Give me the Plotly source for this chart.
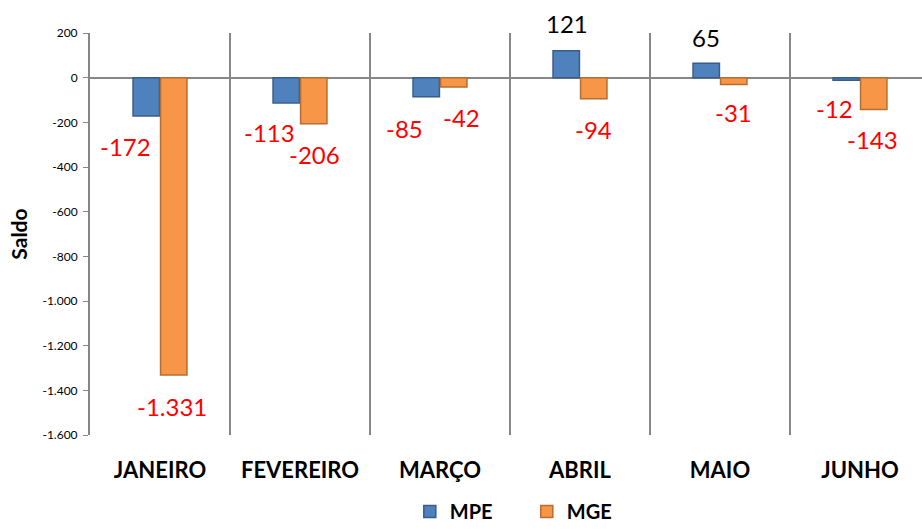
import plotly.graph_objects as go

categories = ["JANEIRO", "FEVEREIRO", "MARÇO", "ABRIL", "MAIO", "JUNHO"]
mpe = [-172, -113, -85, 121, 65, -12]
mge = [-1331, -206, -42, -94, -31, -143]
y_tickvals = [200, 0, -200, -400, -600, -800, -1000, -1200, -1400, -1600]
y_ticktext = ["200", "0", "-200", "-400", "-600", "-800", "-1.000", "-1.200", "-1.400", "-1.600"]

# label placement offsets (px) relative to (category centre, bar end)
mpe_xshift = [-35, -30, -35, -13, -14, -25]
mpe_yshift = [-30, -30, -32, 27, 26, -28]
mge_xshift = [12, 15, 22, 14, 14, 13]
mge_yshift = [-32, -31, -30, -31, -28, -30]


def fmt(v):
    return f"{v:,}".replace(",", ".")


fig = go.Figure()
fig.add_trace(go.Bar(
    name="MPE", x=categories, y=mpe,
    marker=dict(color="#4F81BD", line=dict(color="#385D8A", width=1.5)),
))
fig.add_trace(go.Bar(
    name="MGE", x=categories, y=mge,
    marker=dict(color="#F79646", line=dict(color="#B66D31", width=1.5)),
))

annotations = []
for series, xs, ys in ((mpe, mpe_xshift, mpe_yshift), (mge, mge_xshift, mge_yshift)):
    for c, v, dx, dy in zip(categories, series, xs, ys):
        annotations.append(dict(
            x=c, y=v, xref="x", yref="y", text=fmt(v), showarrow=False,
            xshift=dx, yshift=dy,
            font=dict(family="Lato", size=24, color="red" if v < 0 else "black"),
        ))

fig.update_layout(
    width=922, height=531,
    margin=dict(l=90, r=0, t=33, b=96),
    paper_bgcolor="white", plot_bgcolor="white",
    barmode="group", bargap=0.607, bargroupgap=0.04,
    font=dict(family="Lato", color="black"),
    showlegend=True,
    legend=dict(
        orientation="h", x=0.525, xanchor="center",
        yref="container", y=-0.016, yanchor="bottom",
        font=dict(family="Lato", size=20, color="black", weight="bold"),
        entrywidth=72, entrywidthmode="pixels",
    ),
    annotations=annotations,
    xaxis=dict(
        range=[-0.5, 5.443], showgrid=True, gridcolor="#868686", gridwidth=2,
        tickson="boundaries", ticks="", showline=False, zeroline=False,
        tickfont=dict(family="Lato", size=22, color="black", weight="bold"),
        ticklabelstandoff=20, automargin=False,
    ),
    yaxis=dict(
        range=[-1600, 200], tickvals=y_tickvals, ticktext=y_ticktext,
        showgrid=False, zeroline=True, zerolinecolor="#868686", zerolinewidth=2,
        showline=True, linecolor="#868686", linewidth=2,
        ticks="outside", ticklen=5, tickcolor="#868686", tickwidth=1,
        tickfont=dict(family="Lato", size=12, color="black"),
        ticklabelstandoff=3, automargin=False,
        title=dict(text="Saldo", font=dict(family="Lato", size=21, color="black", weight="bold"), standoff=9),
    ),
)

fig.write_html("out.html", config={"displayModeBar": False},
               post_script="document.body.style.margin='0';")
